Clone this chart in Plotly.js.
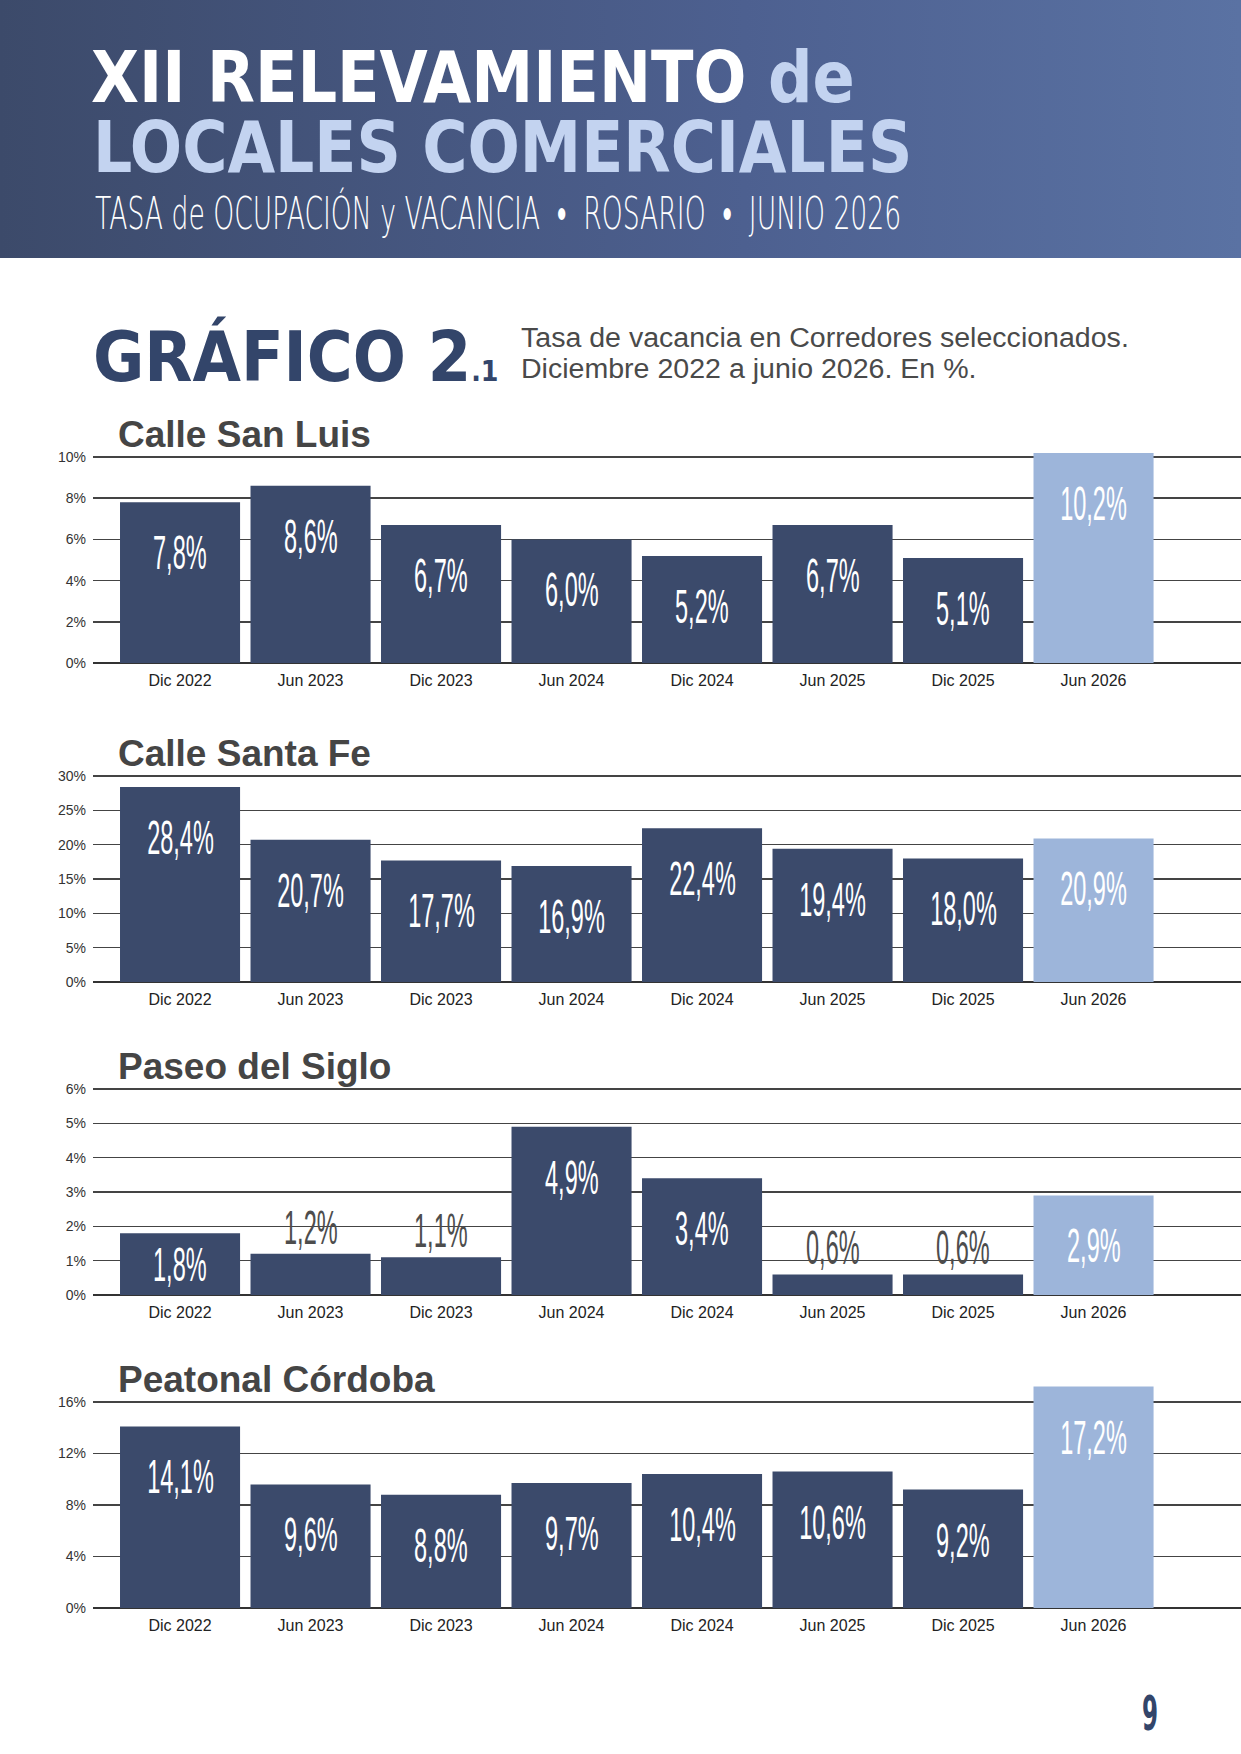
<!DOCTYPE html>
<html>
<head>
<meta charset="utf-8">
<script src="https://cdn.plot.ly/plotly-3.0.1.min.js"></script>
<style>
  html, body { margin: 0; padding: 0; background: #fff; }
  #page { position: relative; width: 1241px; height: 1754px; overflow: hidden; background: #fff; }
  #chart { position: absolute; left: 0; top: 0; width: 1241px; height: 1754px; }
  #banner { position: absolute; left: 0; top: 0; width: 1241px; height: 258px;
            background: linear-gradient(90deg, #3c4a6a 0%, #4d6090 60%, #5a72a3 100%); }
  .fit { position: absolute; white-space: nowrap; transform-origin: 0 0; line-height: 0.8; }
  .head { font-family: 'DejaVu Sans', sans-serif; font-weight: bold; font-stretch: condensed; }
</style>
</head>
<body>
<div id="page">
  <div id="banner"></div>
  <div id="chart"></div>

  <div class="fit head" data-w="764" style="left:91px;top:50px;font-size:71px;color:#fff;">XII RELEVAMIENTO <span style="color:#c3d3f0">de</span></div>
  <div class="fit head" data-w="819" style="left:93px;top:119px;font-size:72px;color:#c3d3f0;">LOCALES COMERCIALES</div>
  <div class="fit" data-w="806" style="left:95px;top:196px;font-size:45px;color:#fff;font-family:'DejaVu Sans',sans-serif;font-weight:200;">TASA de OCUPACIÓN y VACANCIA &nbsp;•&nbsp; ROSARIO &nbsp;•&nbsp; JUNIO 2026</div>

  <div class="fit head" data-w="406" style="left:93px;top:330px;font-size:69px;color:#33456a;">GRÁFICO 2<span style="font-size:28px">.1</span></div>
  <div class="fit" data-w="608" style="left:521px;top:323px;font-size:27px;line-height:31px;color:#4a4a4a;font-family:'Liberation Sans',Arial,sans-serif;">Tasa de vacancia en Corredores seleccionados.<br>Diciembre 2022 a junio 2026. En %.</div>

  <div class="fit head" data-w="16" style="left:1142px;top:1694px;font-size:48px;color:#33456a;">9</div>
</div>

<script>
// periodos relevados
const periods = ['Dic 2022', 'Jun 2023', 'Dic 2023', 'Jun 2024', 'Dic 2024', 'Jun 2025', 'Dic 2025', 'Jun 2026'];

// tasa de vacancia por corredor (%)
const sanLuis = [7.8, 8.6, 6.7, 6.0, 5.2, 6.7, 5.1, 10.2];
const santaFe = [28.4, 20.7, 17.7, 16.9, 22.4, 19.4, 18.0, 20.9];
const paseoSiglo = [1.8, 1.2, 1.1, 4.9, 3.4, 0.6, 0.6, 2.9];
const peatonalCordoba = [14.1, 9.6, 8.8, 9.7, 10.4, 10.6, 9.2, 17.2];

// marcas del eje y
const sanLuisTicks = [0, 2, 4, 6, 8, 10];
const santaFeTicks = [0, 5, 10, 15, 20, 25, 30];
const paseoSigloTicks = [0, 1, 2, 3, 4, 5, 6];
const peatonalCordobaTicks = [0, 4, 8, 12, 16];

const titles = ['Calle San Luis', 'Calle Santa Fe', 'Paseo del Siglo', 'Peatonal Córdoba'];
const series = [sanLuis, santaFe, paseoSiglo, peatonalCordoba];
const ticks = [sanLuisTicks, santaFeTicks, paseoSigloTicks, peatonalCordobaTicks];

// geometría de la página (px)
const W = 1241, H = 1754;
const zeroPx = [663, 982, 1295, 1608];
const gridSpan = 206, plotSpan = 226;
const plotLeft = 93;

const dark = '#3b4a6b', light = '#9db5da';
const fmt = v => v.toFixed(1).replace('.', ',') + '%';

const data = [];
const annotations = [];
const valueIdx = [];
const layout = {
  width: W, height: H,
  margin: { l: 0, r: 0, t: 0, b: 0 },
  paper_bgcolor: 'rgba(0,0,0,0)',
  plot_bgcolor: 'rgba(0,0,0,0)',
  showlegend: false,
  bargap: 0.08,
  font: { family: 'Liberation Sans, Arial, sans-serif', color: '#333' }
};

series.forEach((vals, c) => {
  const k = c + 1;
  const xa = k === 1 ? 'x' : 'x' + k;
  const ya = k === 1 ? 'y' : 'y' + k;
  const top = ticks[c][ticks[c].length - 1];
  const pxPer = gridSpan / top;

  data.push({
    type: 'bar', x: periods, y: vals, xaxis: xa, yaxis: ya,
    marker: { color: vals.map((v, i) => i === vals.length - 1 ? light : dark) },
    hoverinfo: 'none'
  });

  layout[k === 1 ? 'xaxis' : 'xaxis' + k] = {
    anchor: ya, domain: [plotLeft / W, 1],
    type: 'category', range: [-0.667, 8.13],
    showgrid: false, zeroline: false, showline: false, ticks: '',
    tickfont: { size: 16, color: '#222' }, ticklabelstandoff: 6
  };
  layout[k === 1 ? 'yaxis' : 'yaxis' + k] = {
    anchor: xa,
    domain: [1 - zeroPx[c] / H, 1 - (zeroPx[c] - plotSpan) / H],
    range: [0, top * plotSpan / gridSpan],
    tickmode: 'array', tickvals: ticks[c], ticktext: ticks[c].map(t => t + '%'),
    ticks: '', tickfont: { size: 14, color: '#333' }, ticklabelstandoff: 6,
    showgrid: true, gridcolor: '#444', gridwidth: 1.5,
    zeroline: true, zerolinecolor: '#333', zerolinewidth: 2, showline: false
  };

  annotations.push({
    xref: 'paper', yref: 'paper', x: 116 / W, xanchor: 'left',
    y: 1 - (zeroPx[c] - gridSpan - 23) / H, yanchor: 'middle',
    text: '<b>' + titles[c] + '</b>', showarrow: false,
    font: { size: 37, color: '#454545', family: 'Liberation Sans, Arial, sans-serif' }
  });

  vals.forEach((v, i) => {
    const h = v * pxPer;
    const outside = h < 55;
    valueIdx.push(annotations.length);
    annotations.push({
      xref: xa, yref: ya, x: periods[i], y: v,
      text: fmt(v), showarrow: false, yanchor: 'middle',
      yshift: outside ? 27 : -Math.min(50, h / 2),
      font: { size: 49, color: outside ? '#4d4d4d' : '#ffffff', family: 'Liberation Sans, Arial, sans-serif' }
    });
  });
});
layout.annotations = annotations;

Plotly.newPlot('chart', data, layout, { staticPlot: true, displayModeBar: false }).then(gd => {
  // tipografía condensada de los valores
  valueIdx.forEach(i => {
    const t = gd.querySelector('.annotation[data-index="' + i + '"] .annotation-text');
    if (t) {
      t.style.transformBox = 'fill-box';
      t.style.transformOrigin = 'center';
      t.style.transform = 'scaleX(0.48)';
    }
  });
});

// ajustar ancho de los textos de cabecera
document.querySelectorAll('.fit').forEach(el => {
  const w = +el.dataset.w;
  el.style.transform = 'scaleX(' + (w / el.offsetWidth) + ')';
});
</script>
</body>
</html>
